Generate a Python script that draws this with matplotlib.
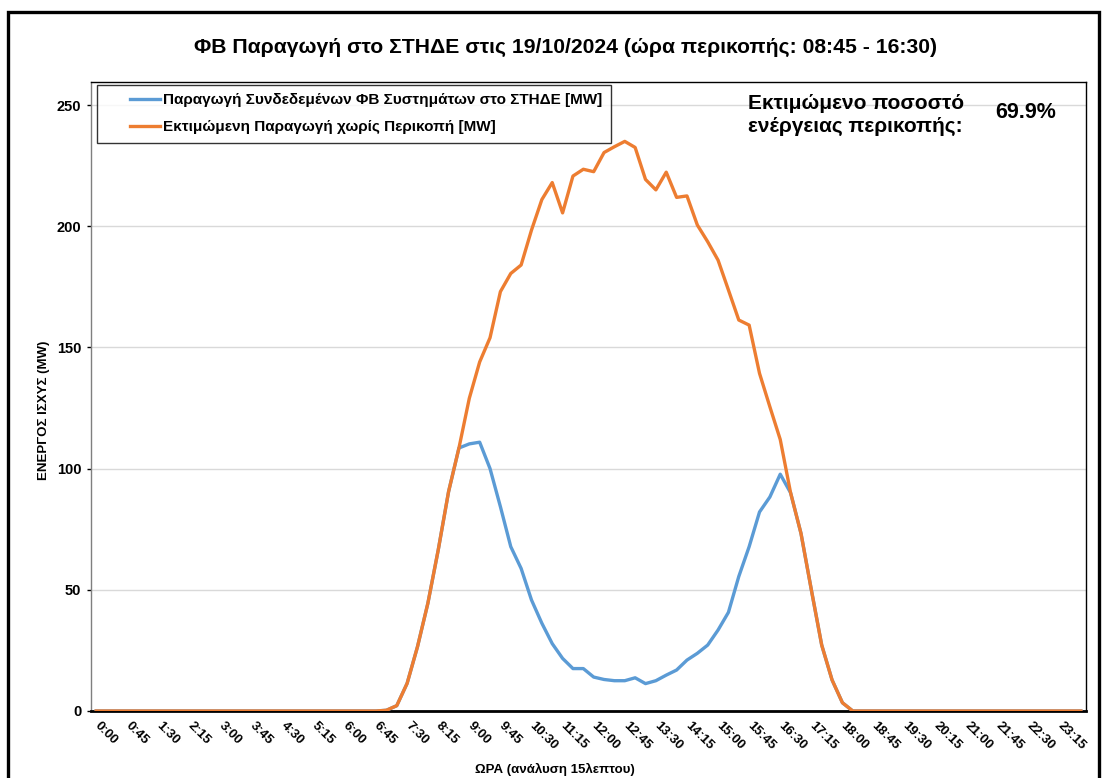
import matplotlib
matplotlib.use('Agg')
import numpy as np
import matplotlib.pyplot as plt
from matplotlib.patches import Rectangle
from matplotlib.lines import Line2D
from matplotlib.legend_handler import HandlerLine2D

plt.rcParams['font.family'] = ['Liberation Sans', 'DejaVu Sans']

# ---------------- data ----------------
times = [
    "0:00", "0:15", "0:30", "0:45", "1:00", "1:15", "1:30", "1:45",
    "2:00", "2:15", "2:30", "2:45", "3:00", "3:15", "3:30", "3:45",
    "4:00", "4:15", "4:30", "4:45", "5:00", "5:15", "5:30", "5:45",
    "6:00", "6:15", "6:30", "6:45", "7:00", "7:15", "7:30", "7:45",
    "8:00", "8:15", "8:30", "8:45", "9:00", "9:15", "9:30", "9:45",
    "10:00", "10:15", "10:30", "10:45", "11:00", "11:15", "11:30", "11:45",
    "12:00", "12:15", "12:30", "12:45", "13:00", "13:15", "13:30", "13:45",
    "14:00", "14:15", "14:30", "14:45", "15:00", "15:15", "15:30", "15:45",
    "16:00", "16:15", "16:30", "16:45", "17:00", "17:15", "17:30", "17:45",
    "18:00", "18:15", "18:30", "18:45", "19:00", "19:15", "19:30", "19:45",
    "20:00", "20:15", "20:30", "20:45", "21:00", "21:15", "21:30", "21:45",
    "22:00", "22:15", "22:30", "22:45", "23:00", "23:15", "23:30", "23:45",
]

tick_labels = [
    "0:00", "0:45", "1:30", "2:15", "3:00", "3:45", "4:30", "5:15",
    "6:00", "6:45", "7:30", "8:15", "9:00", "9:45", "10:30", "11:15",
    "12:00", "12:45", "13:30", "14:15", "15:00", "15:45", "16:30", "17:15",
    "18:00", "18:45", "19:30", "20:15", "21:00", "21:45", "22:30", "23:15",
]

actual_mw = [
    0, 0, 0, 0, 0, 0, 0, 0, 0, 0, 0, 0, 0, 0, 0, 0,
    0, 0, 0, 0, 0, 0, 0, 0, 0, 0, 0, 0,
    0.3, 2.2, 11.4, 26.5, 44.4, 66.4, 90.5, 108.5,
    110.2, 110.9, 100.0, 84.3, 67.8, 58.8, 45.8, 36.2,
    27.8, 21.7, 17.5, 17.5, 14.0, 13.0, 12.5, 12.5,
    13.7, 11.3, 12.5, 14.8, 16.9, 21.0, 23.8, 27.2,
    33.4, 40.7, 55.5, 67.8, 82.1, 88.3, 97.7, 90.0,
    73.3, 50.0, 27.2, 12.8, 3.4, 0,
    0, 0, 0, 0, 0, 0, 0, 0, 0, 0, 0, 0, 0, 0, 0, 0, 0, 0, 0, 0, 0, 0,
]

estimated_mw = [
    0, 0, 0, 0, 0, 0, 0, 0, 0, 0, 0, 0, 0, 0, 0, 0,
    0, 0, 0, 0, 0, 0, 0, 0, 0, 0, 0, 0,
    0.3, 2.2, 11.4, 26.5, 44.4, 66.4, 90.5, 108.5,
    129.0, 144.0, 154.0, 173.0, 180.5, 184.0, 198.4, 211.0,
    218.0, 205.5, 220.7, 223.5, 222.5, 230.4, 232.8, 235.0,
    232.5, 219.3, 215.0, 222.3, 211.9, 212.5, 200.5, 193.6,
    186.0, 173.7, 161.3, 159.2, 139.3, 125.5, 112.0, 90.0,
    73.3, 50.0, 27.2, 12.8, 3.4, 0,
    0, 0, 0, 0, 0, 0, 0, 0, 0, 0, 0, 0, 0, 0, 0, 0, 0, 0, 0, 0, 0, 0,
]

y_ticks = [0, 50, 100, 150, 200, 250]

title = "ΦΒ Παραγωγή στο ΣΤΗΔΕ στις 19/10/2024 (ώρα περικοπής: 08:45 - 16:30)"
label_actual = "Παραγωγή Συνδεδεμένων ΦΒ Συστημάτων στο ΣΤΗΔΕ [MW]"
label_est = "Εκτιμώμενη Παραγωγή χωρίς Περικοπή [MW]"
note_text = "Εκτιμώμενο ποσοστό\nενέργειας περικοπής:"
note_value = "69.9%"


class RightHalfLine(HandlerLine2D):
    """Legend handle whose line sample sits on the right part of the handle box."""
    def create_artists(self, legend, orig_handle, xdescent, ydescent,
                       width, height, fontsize, trans):
        artists = super().create_artists(legend, orig_handle, xdescent, ydescent,
                                          width, height, fontsize, trans)
        for a in artists:
            xd = np.asarray(a.get_xdata(), dtype=float)
            if xd.size >= 2:
                lo, hi = xd.min(), xd.max()
                a.set_xdata(lo + 0.45 * (hi - lo) + (xd - lo) * 0.55)
        return artists


# ---------------- figure ----------------
W, H = 1103, 778
fig = plt.figure(figsize=(W / 100, H / 100), dpi=100)
fig.patch.set_facecolor('white')

# outer chart border
fig.add_artist(Rectangle((8 / W, -0.05), (1099 - 8) / W, 1.05 - 12 / H,
                         transform=fig.transFigure, fill=False,
                         edgecolor='black', linewidth=2.4))

ax = fig.add_axes([91 / W, 1 - 711 / H, (1086 - 91) / W, (711 - 82) / H])

x = list(range(len(times)))
line_a, = ax.plot(x, actual_mw, color='#5B9BD5', linewidth=2.4,
                  solid_joinstyle='round', zorder=3)
line_e, = ax.plot(x, estimated_mw, color='#ED7D31', linewidth=2.4,
                  solid_joinstyle='round', zorder=4)

ax.set_xlim(-0.5, len(times) - 0.5)
ax.set_ylim(0, 259.5)

ax.set_yticks(y_ticks)
ax.set_yticklabels([str(v) for v in y_ticks], fontsize=10.5, fontweight='bold')
ax.tick_params(axis='y', length=3, width=1, color='black', pad=4)

tick_pos = [times.index(t) for t in tick_labels]
ax.set_xticks(tick_pos)
ax.set_xticklabels(tick_labels, fontsize=9.5, fontweight='bold',
                   rotation=-45, ha='left', va='center', rotation_mode='anchor')
ax.tick_params(axis='x', length=0, pad=9)

ax.grid(axis='y', color='#d9d9d9', linewidth=1)
ax.set_axisbelow(True)

for side in ['top', 'right']:
    ax.spines[side].set_color('black')
    ax.spines[side].set_linewidth(1)
ax.spines['left'].set_color('#7f7f7f')
ax.spines['left'].set_linewidth(1)
ax.spines['bottom'].set_color('black')
ax.spines['bottom'].set_linewidth(2)

ax.set_ylabel("ΕΝΕΡΓΟΣ ΙΣΧΥΣ (MW)", fontsize=9.5, fontweight='bold')
ax.yaxis.set_label_coords(-0.041, 0.4785)
ax.set_xlabel("ΩΡΑ (ανάλυση 15λεπτου)", fontsize=9.5, fontweight='bold')
ax.xaxis.set_label_coords(0.466, -0.083)

fig.text(565 / W, 1 - 47 / H, title, fontsize=15.2, fontweight='bold',
         ha='center', va='center')

leg = ax.legend([line_a, line_e], [label_actual, label_est],
                loc='upper left', bbox_to_anchor=(6 / 995, 1 - 3 / 629),
                frameon=True, fancybox=False, edgecolor='black',
                prop={'weight': 'bold', 'size': 11}, handlelength=3.6,
                handletextpad=0.2, borderpad=0.55, labelspacing=0.85,
                borderaxespad=0,
                handler_map={Line2D: RightHalfLine()})
leg.get_frame().set_linewidth(1)

fig.text(748 / W, 1 - 115 / H, note_text, fontsize=15, fontweight='bold',
         ha='left', va='center', linespacing=1.2)
fig.text(1026 / W, 1 - 112 / H, note_value, fontsize=15.5, fontweight='bold',
         ha='center', va='center')

fig.savefig('out.png', dpi=100)
